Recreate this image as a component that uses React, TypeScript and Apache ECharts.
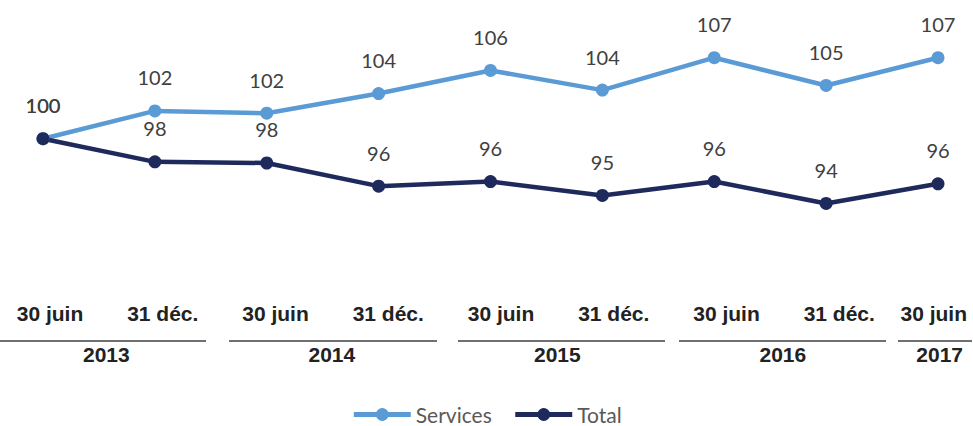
import React, { useEffect, useRef } from 'react';
import * as echarts from 'echarts';

const periods = ['30 juin', '31 déc.', '30 juin', '31 déc.', '30 juin', '31 déc.', '30 juin', '31 déc.', '30 juin'];
const years = ['2013', '2014', '2015', '2016', '2017'];
const servicesValues = [100, 102.4, 102.2, 103.9, 105.9, 104.2, 107.0, 104.6, 107.0];
const totalValues = [100, 98.0, 97.9, 95.9, 96.3, 95.1, 96.3, 94.4, 96.1];
const seriesNames = ['Services', 'Total'];
const seriesColors = ['#5B9BD5', '#1F2A5C'];

export default function App() {
  const ref = useRef<HTMLDivElement>(null);
  useEffect(() => {
    if (!ref.current) return;
    const chart = echarts.init(ref.current, undefined, { renderer: 'svg' });

    const lastIdx = periods.length - 1;
    const periodData = periods.map((p, i) =>
      i === lastIdx ? { value: p, textStyle: { align: 'right', padding: [0, -15, 0, 0] } } : p
    );
    const slotCount = (periods.length - 1) * 2 + 1;
    const yearData: any[] = Array.from({ length: slotCount }, () => '');
    years.forEach((y, i) => {
      const slot = Math.min(i * 4 + 1, slotCount - 1);
      yearData[slot] = slot === slotCount - 1 ? { value: y, textStyle: { align: 'right', padding: [0, -11, 0, 0] } } : y;
    });

    const axisFont = { fontFamily: '"Liberation Sans", Arial, sans-serif', fontWeight: 'bold' as const, fontSize: 21, color: '#222' };

    const labelStyle = {
      show: true,
      position: 'top' as const,
      distance: 17,
      fontFamily: 'Lato',
      fontSize: 20,
      color: '#404040',
      formatter: (p: any) => String(Math.round(p.value)),
    };

    chart.setOption({
      animation: false,
      textStyle: { fontFamily: 'Lato' },
      grid: [
        { left: 43, right: 35, top: 23, height: 231.4 },
        { left: 50, right: 21, top: 296, height: 1 },
        { left: 50, right: 21, top: 340, height: 1 },
      ],
      xAxis: [
        { type: 'category', gridIndex: 0, data: periods, boundaryGap: false, show: false },
        {
          type: 'category', gridIndex: 1, data: periodData, boundaryGap: false,
          axisLine: { show: false }, axisTick: { show: false },
          axisLabel: { ...axisFont, interval: 0, margin: 6 },
        },
        {
          type: 'category', gridIndex: 2, data: yearData, boundaryGap: false,
          axisLine: { show: false }, axisTick: { show: false },
          axisLabel: { ...axisFont, interval: 0, margin: 3 },
        },
      ],
      yAxis: [
        { type: 'value', gridIndex: 0, min: 90, max: 110, show: false },
        { type: 'value', gridIndex: 1, show: false },
        { type: 'value', gridIndex: 2, show: false },
      ],
      legend: {
        top: 399,
        left: 'center',
        itemWidth: 57,
        itemHeight: 16,
        itemGap: 21,
        lineStyle: { width: 5 },
        textStyle: { fontFamily: 'Lato', fontSize: 21, color: '#595959' },
        data: seriesNames,
      },
      graphic: [
        [0, 206], [229, 437], [458, 665], [679, 886], [898, 972],
      ].map(([x1, x2]) => ({
        type: 'line',
        shape: { x1, y1: 341, x2, y2: 341 },
        style: { stroke: '#404040', lineWidth: 1.5 },
      })),
      series: [
        {
          name: seriesNames[0], type: 'line', data: servicesValues,
          xAxisIndex: 0, yAxisIndex: 0,
          symbol: 'circle', symbolSize: 13,
          lineStyle: { width: 4.5, color: seriesColors[0] },
          itemStyle: { color: seriesColors[0] },
          label: labelStyle,
        },
        {
          name: seriesNames[1], type: 'line', data: totalValues,
          xAxisIndex: 0, yAxisIndex: 0,
          symbol: 'circle', symbolSize: 13,
          lineStyle: { width: 4.5, color: seriesColors[1] },
          itemStyle: { color: seriesColors[1] },
          label: labelStyle,
        },
      ],
    });
    return () => chart.dispose();
  }, []);
  return <div ref={ref} style={{ position: 'fixed', left: 0, top: 0, width: 973, height: 426, background: '#fff' }} />;
}
